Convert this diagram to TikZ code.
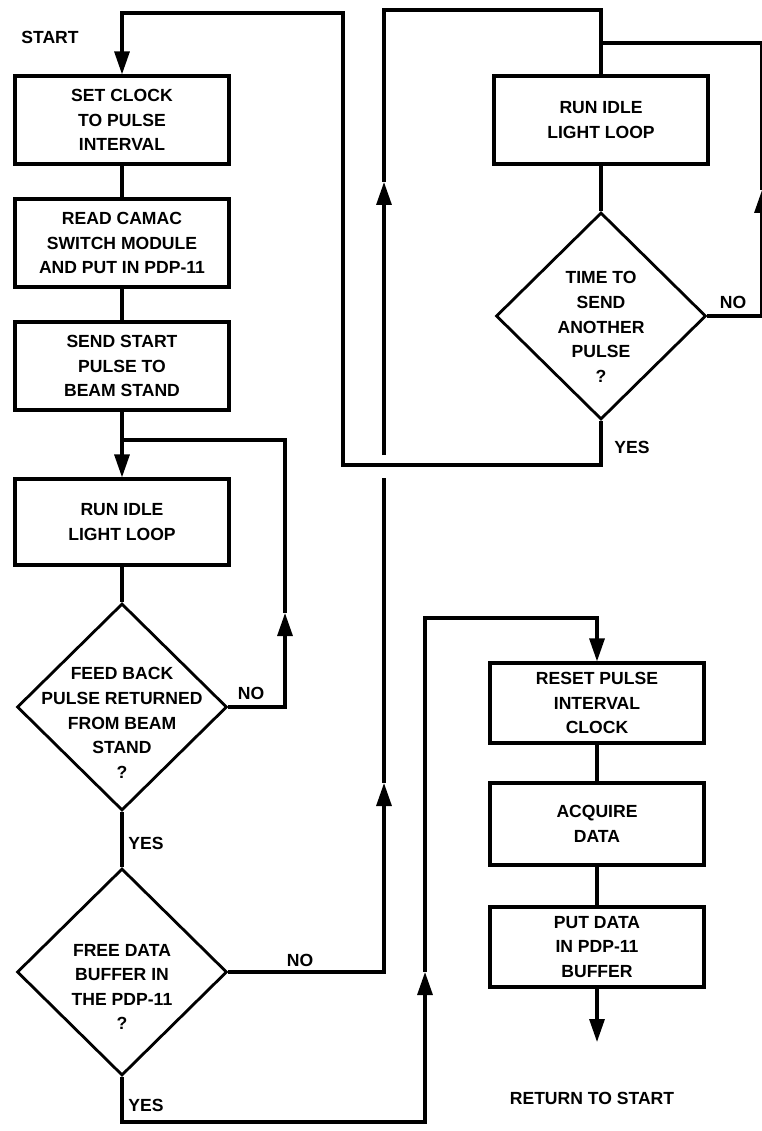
\documentclass[tikz,border=0pt]{standalone}
\usepackage{fontspec}
\setmainfont{Liberation Sans}
\usetikzlibrary{arrows.meta, positioning, calc, shapes.geometric}

\newcommand{\flowfont}{\fontsize{10}{14}\selectfont\bfseries}
\tikzset{
  procbox/.style={draw, line width=1.8pt, minimum width=4.28cm, minimum height=1.76cm, align=center, font=\flowfont, inner sep=2pt},
  decision/.style={draw, diamond, aspect=1, line width=1.6pt, minimum width=4.2cm, minimum height=4.14cm, inner sep=0pt},
  dtext/.style={align=center, font=\flowfont},
  tag/.style={font=\flowfont},
  flow/.style={line width=1.8pt},
  flowarrow/.style={flow, -{Triangle[length=0.46cm, width=0.3cm]}},
}

\begin{document}
\begin{tikzpicture}[x=0.02cm, y=-0.02cm]
\useasboundingbox (0,0) rectangle (761,1131);

% left column
\node[tag] (start) at (50,37) {START};
\node[procbox] (setclk) at (122,120) {SET CLOCK\\TO PULSE\\INTERVAL};
\node[procbox] (readsw) at (122,243) {READ CAMAC\\SWITCH MODULE\\AND PUT IN PDP-11};
\node[procbox] (sendst) at (122,366) {SEND START\\PULSE TO\\BEAM STAND};
\node[procbox, minimum height=1.72cm] (idleA) at (122,522) {RUN IDLE\\LIGHT LOOP};
\node[decision, label={[dtext, yshift=-0.32cm]center:{FEED BACK\\PULSE RETURNED\\FROM BEAM\\STAND\\?}}] (fbq) at (122,707) {};
\node[decision, label={[dtext, yshift=-0.3cm]center:{FREE DATA\\BUFFER IN\\THE PDP-11\\?}}] (bufq) at (122,972) {};

% right column
\node[procbox] (idleB) at (601,120) {RUN IDLE\\LIGHT LOOP};
\node[decision, label={[dtext, yshift=-0.22cm]center:{TIME TO\\SEND\\ANOTHER\\PULSE\\?}}] (timeq) at (601,316) {};
\node[procbox, minimum height=1.6cm] (reset) at (597,703) {RESET PULSE\\INTERVAL\\CLOCK};
\node[procbox, minimum height=1.64cm] (acq) at (597,824) {ACQUIRE\\DATA};
\node[procbox, minimum height=1.6cm] (putd) at (597,947) {PUT DATA\\IN PDP-11\\BUFFER};
\node[tag] (ret) at (592,1098) {RETURN TO START};

% branch labels
\node[tag] (noA) at (251,693) {NO};
\node[tag] (yesA) at (146,843) {YES};
\node[tag] (noB) at (300,960) {NO};
\node[tag] (yesB) at (146,1105) {YES};
\node[tag] (yesC) at (632,447) {YES};
\node[tag] (noC) at (733,302) {NO};

% bends
\coordinate (fbup) at (285,613);
\coordinate (fbback) at (285,440);
\coordinate (fbjoin) at (122,440);
\coordinate (tl1) at (343,465);
\coordinate (tl2) at (343,13);
\coordinate (tn1) at (762,190);
\coordinate (tn2) at (762,43);
\coordinate (bn1) at (384,783);
\coordinate (bn2) at (384,478);
\coordinate (bn3) at (384,455);
\coordinate (bn4) at (384,182);
\coordinate (bn5) at (384,10);
\coordinate (by2) at (425,1122);
\coordinate (by3) at (425,972);
\coordinate (by4) at (425,618);
\coordinate (retend) at (597,1042);

% main column
\draw[flow] (setclk) -- (readsw);
\draw[flow] (readsw) -- (sendst);
\draw[flowarrow] (sendst) -- (idleA);
\draw[flow] (idleA) -- (fbq);
\draw[flow] (fbq) -- (bufq);
\draw[flowarrow] (fbq.east) -| (fbup);
\draw[flow] (fbup) -- (fbback) -- (fbjoin);

% idle loop on the right
\draw[flow] (idleB) -- (timeq);
\draw[flowarrow] (timeq.south) |- (tl1) -- (tl2) -| (setclk.north);
\draw[flowarrow] (timeq.east) -| (tn1);
\draw[flow] (tn1) -- (tn2) -- (tn2 -| idleB.north);

% no free buffer
\draw[flowarrow] (bufq.east) -| (bn1);
\draw[flow] (bn1) -- (bn2);
\draw[flowarrow] (bn3) -- (bn4);
\draw[flow] (bn4) -- (bn5) -| (idleB.north);

% acquire
\draw[flowarrow] (bufq.south) |- (by2) -- (by3);
\draw[flowarrow] (by3) -- (by4) -| (reset.north);
\draw[flow] (reset) -- (acq);
\draw[flow] (acq) -- (putd);
\draw[flowarrow] (putd) -- (retend);
\end{tikzpicture}
\end{document}
